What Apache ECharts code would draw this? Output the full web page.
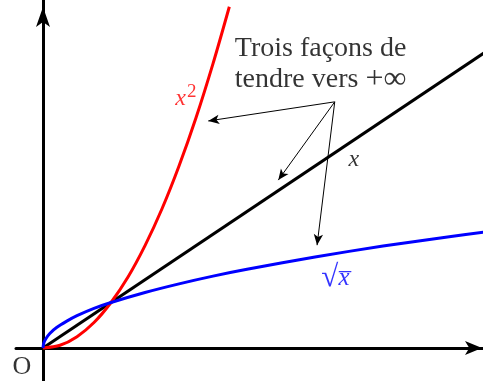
<!DOCTYPE html>
<html>
<head>
<meta charset="utf-8">
<script src="https://cdn.jsdelivr.net/npm/echarts@6/dist/echarts.min.js"></script>
<style>
  html, body { margin: 0; padding: 0; background: #fff; }
  #main { width: 483px; height: 381px; }
</style>
</head>
<body>
<div id="main"></div>
<script>
// points (x, y in axis units)
var sqrtX = [0, 0.01, 0.04, 0.1, 0.2, 0.35, 0.5, 0.75, 1, 1.5, 2, 2.5, 3, 4, 5, 6, 6.5];
var sqrtY = [0, 0.1, 0.2, 0.32, 0.45, 0.59, 0.71, 0.87, 1, 1.22, 1.41, 1.58, 1.73, 2, 2.24, 2.45, 2.55];
var squareX = [0, 0.25, 0.5, 0.75, 1, 1.25, 1.5, 1.75, 2, 2.25, 2.5, 2.74];
var squareY = [0, 0.06, 0.25, 0.56, 1, 1.56, 2.25, 3.06, 4, 5.06, 6.25, 7.5];
var lineX = [0, 6.5];
var lineY = [0, 6.5];

// annotation: one start, three arrow tips
var arrowFrom = [4.29, 5.41];
var arrowTips = [[2.43, 4.99], [3.46, 3.69], [4.03, 2.26]];

function pairs(xs, ys) {
  return xs.map(function (x, i) { return [x, ys[i]]; });
}

var chart = echarts.init(document.getElementById("main"));

var serif = "Liberation Serif";

var labels = [
  { value: [2.82, 6.92], text: "{t|Trois façons de}\n{t|tendre vers }{b|+∞}", color: "#000", size: 28 },
  { value: [2.1, 5.47], text: "{i|x}{s|2}", color: "#ff0000", size: 24 },
  { value: [4.57, 4.13], text: "{i|x}", color: "#000", size: 24 },
  { value: [4.3, 1.54], text: "{r|√}{i|x\u0305}", color: "#0000ff", size: 25 },
  { value: [-0.31, -0.42], text: "O", color: "#000", size: 26 }
];

chart.setOption({
  animation: false,
  grid: { left: 16, right: 0, top: 0, bottom: 0 },
  xAxis: {
    type: "value",
    min: -0.397,
    max: 6.47,
    splitLine: { show: false },
    axisTick: { show: false },
    axisLabel: { show: false },
    axisLine: {
      onZero: true,
      symbol: ["none", "arrow"],
      symbolSize: [10.5, 17],
      symbolOffset: [0, -1],
      lineStyle: { color: "#000", width: 3 }
    }
  },
  yAxis: {
    type: "value",
    min: -0.725,
    max: 7.648,
    splitLine: { show: false },
    axisTick: { show: false },
    axisLabel: { show: false },
    axisLine: {
      onZero: true,
      symbol: ["none", "arrow"],
      symbolSize: [10.5, 20],
      symbolOffset: [0, -7],
      lineStyle: { color: "#000", width: 3 }
    }
  },
  series: [
    {
      name: "x",
      type: "line",
      data: pairs(lineX, lineY),
      showSymbol: false,
      lineStyle: { color: "#000", width: 3 },
      markLine: {
        silent: true,
        symbol: ["none", "arrow"],
        symbolSize: [7, 11],
        label: { show: false },
        lineStyle: { color: "#000", width: 1, type: "solid" },
        data: arrowTips.map(function (t) {
          return [{ coord: arrowFrom }, { coord: t }];
        })
      }
    },
    {
      name: "x2",
      type: "line",
      data: pairs(squareX, squareY),
      showSymbol: false,
      smooth: 0.3,
      clip: false,
      lineStyle: { color: "#ff0000", width: 3 }
    },
    {
      name: "sqrt",
      type: "line",
      data: pairs(sqrtX, sqrtY),
      showSymbol: false,
      smooth: 0.3,
      lineStyle: { color: "#0000ff", width: 3 }
    },
    {
      name: "labels",
      type: "scatter",
      symbolSize: 0,
      silent: true,
      data: labels.map(function (l, idx) {
        return {
          value: l.value,
          label: {
            show: true,
            position: idx === 0 ? "right" : "inside",
            verticalAlign: idx === 0 ? "top" : "middle",
            align: idx === 0 ? "left" : "center",
            distance: 0,
            formatter: l.text,
            color: l.color,
            fontFamily: serif,
            fontSize: l.size,
            lineHeight: 31,
            rich: {
              t: { fontFamily: serif, fontSize: 28, color: "#000", lineHeight: 31 },
              b: { fontFamily: serif, fontSize: 32, color: "#000", lineHeight: 31 },
              i: { fontFamily: serif, fontStyle: "italic", fontSize: l.size, color: l.color },
              s: { fontFamily: serif, fontSize: 19, color: l.color, verticalAlign: "bottom", padding: [0, 0, 13, 1] },
              r: { fontFamily: serif, fontSize: 31, color: l.color }
            }
          }
        };
      })
    }
  ]
});

window.addEventListener("resize", function () {
  chart.resize();
});
</script>
</body>
</html>
